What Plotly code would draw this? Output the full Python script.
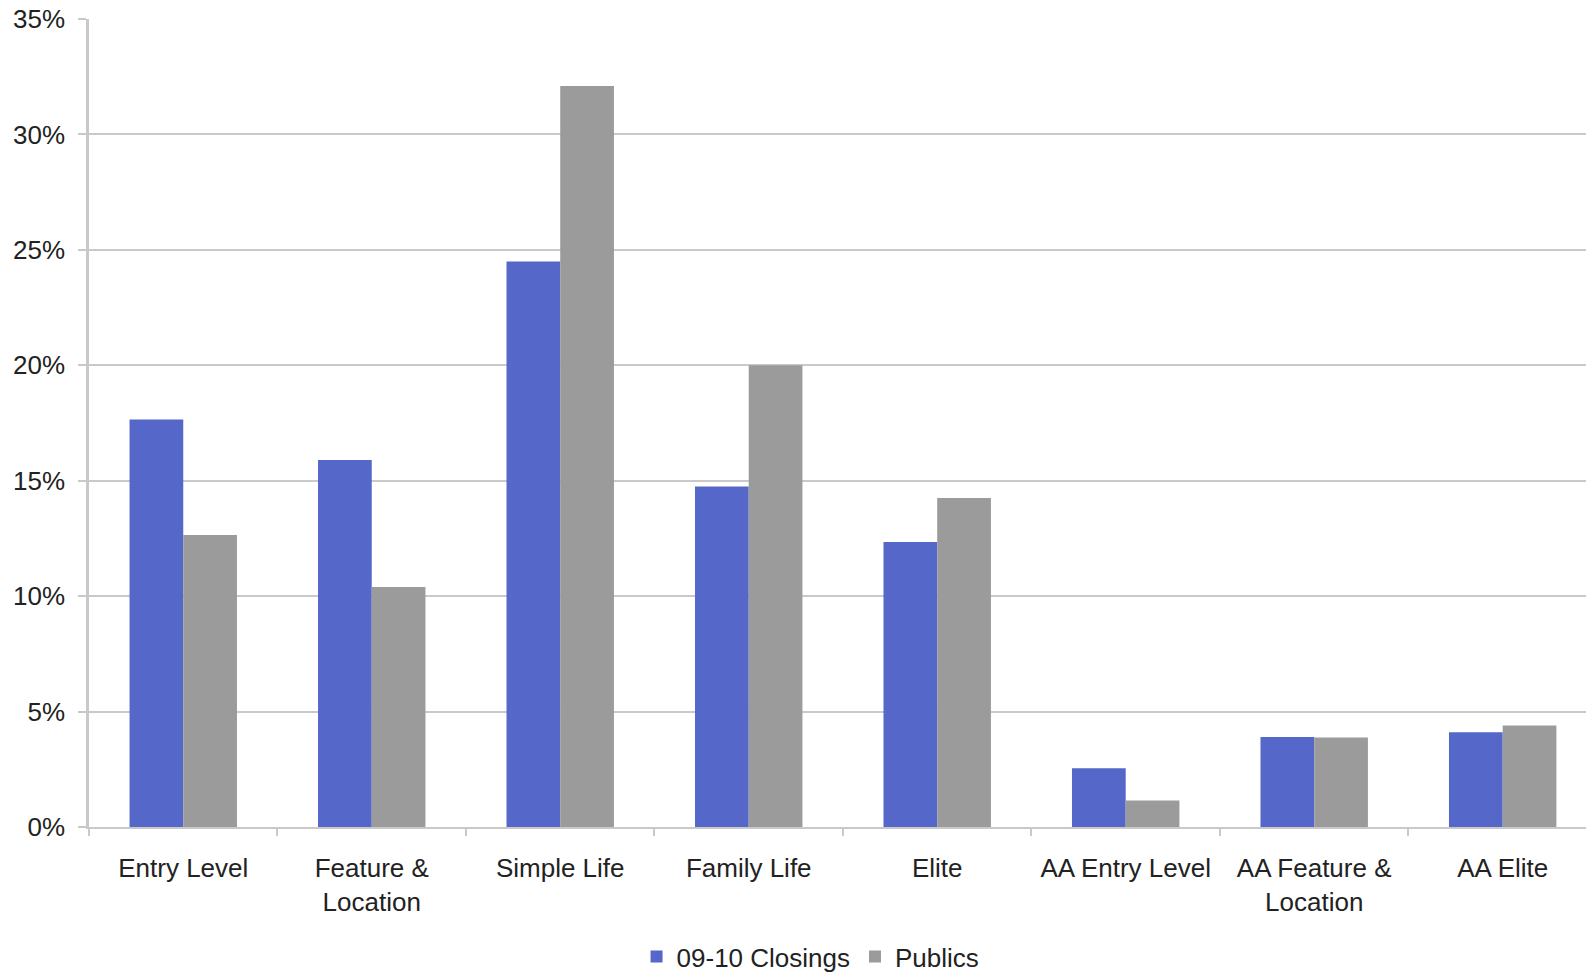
import plotly.graph_objects as go

# Segment labels and share of homes (%) for each series
categories = ["Entry Level", "Feature &<br>Location", "Simple Life", "Family Life",
              "Elite", "AA Entry Level", "AA Feature &<br>Location", "AA Elite"]
closings = [17.65, 15.9, 24.5, 14.75, 12.35, 2.55, 3.9, 4.1]
publics = [12.65, 10.4, 32.1, 20.0, 14.25, 1.15, 3.88, 4.4]

BLUE = "#5567C8"
GREY = "#9B9B9B"
GRID = "#C9C9C9"
FONT = dict(family="Liberation Sans, Arial, sans-serif", size=26, color="#222222")

fig = go.Figure()
fig.add_trace(go.Bar(x=categories, y=closings, name="09-10 Closings",
                     marker=dict(color=BLUE, line=dict(width=0))))
fig.add_trace(go.Bar(x=categories, y=publics, name="Publics",
                     marker=dict(color=GREY, line=dict(width=0))))

fig.update_layout(
    width=1586, height=980,
    margin=dict(l=89, r=0, t=19, b=153, autoexpand=False),
    paper_bgcolor="white", plot_bgcolor="white",
    barmode="group", bargap=0.43, bargroupgap=0,
    font=FONT,
    showlegend=True,
    legend=dict(orientation="h", x=0.482, xanchor="center",
                yref="container", y=0.024, yanchor="middle",
                font=FONT, itemwidth=30, traceorder="normal"),
)
fig.update_xaxes(
    type="category", range=[-0.5, 7.442], automargin=False,
    showline=True, linecolor=GRID, linewidth=2,
    ticks="outside", tickson="boundaries", ticklen=7, tickcolor=GRID, tickwidth=2,
    ticklabelstandoff=17, showgrid=False, zeroline=False,
)
fig.update_yaxes(
    range=[0, 35], dtick=5, ticksuffix="%", automargin=False,
    showline=True, linecolor=GRID, linewidth=2.5,
    ticks="outside", ticklen=8, tickcolor=GRID, tickwidth=2,
    showgrid=True, gridcolor=GRID, gridwidth=2, zeroline=False,
    ticklabelstandoff=8,
)

fig.write_html("out.html")
